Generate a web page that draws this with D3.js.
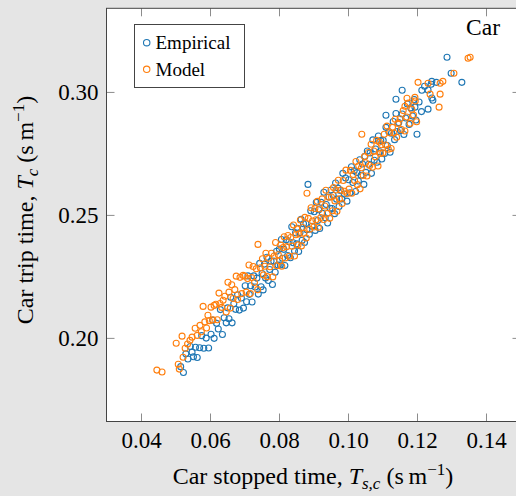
<!DOCTYPE html>
<html>
<head>
<meta charset="utf-8">
<script src="https://cdn.jsdelivr.net/npm/d3@7"></script>
<style>
  html, body { margin: 0; padding: 0; background: #e5e5e5; }
  svg { display: block; }
  svg text, svg tspan { font-family: 'Liberation Serif', 'Times New Roman', Times, serif !important; fill: #000; }
</style>
</head>
<body>
<svg id="chart" width="516" height="496"></svg>
<script>
// ---- data ----
const seriesNames = ["Empirical", "Model"];
const seriesColors = ["#1f77b4", "#ff7f0e"];
const xTicks = [0.04, 0.06, 0.08, 0.10, 0.12, 0.14];
const yTicks = [0.20, 0.25, 0.30];
const xDomain = [0.03, 0.15];
const yDomain = [0.166, 0.334];

const empirical = [
[.0515,.1883],[.0523,.1859],[.0530,.1935],[.0536,.1914],[.0543,.1965],[.0548,.1942],
[.0552,.1923],[.0558,.1962],[.0563,.1920],[.0570,.1960],[.0576,.2009],[.0582,.1958],[.0589,.1999],[.0596,.1959],
[.0603,.2015],[.0608,.2072],[.0612,.1998],[.0619,.2059],[.0624,.2036],[.0630,.2115],[.0636,.2014],[.0641,.2082],[.0647,.2061],
[.0651,.2122],[.0655,.2078],[.0660,.2165],[.0664,.2061],[.0669,.2139],[.0674,.2116],[.0680,.2175],[.0685,.2113],[.0691,.2162],[.0697,.2121],
[.0702,.2212],[.0706,.2147],[.0710,.2252],[.0714,.2177],[.0718,.2212],[.0722,.2146],[.0727,.2252],[.0731,.2207],[.0736,.2243],[.0740,.2178],[.0744,.2303],[.0748,.2208],
[.0751,.2262],[.0754,.2195],[.0758,.2300],[.0761,.2243],[.0765,.2328],[.0769,.2233],[.0773,.2278],[.0777,.2312],[.0781,.2217],[.0785,.2312],[.0789,.2267],[.0793,.2352],[.0797,.2296],
[.0801,.2361],[.0804,.2296],[.0807,.2400],[.0810,.2324],[.0814,.2360],[.0817,.2294],[.0821,.2399],[.0825,.2335],[.0829,.2391],[.0833,.2326],[.0837,.2452],[.0841,.2387],[.0845,.2353],[.0848,.2427],
[.0851,.2382],[.0854,.2446],[.0857,.2351],[.0861,.2428],[.0864,.2482],[.0867,.2397],[.0871,.2464],[.0874,.2388],[.0878,.2465],[.0881,.2440],[.0884,.2624],[.0888,.2421],[.0892,.2517],[.0896,.2454],
[.0902,.2513],[.0905,.2437],[.0908,.2551],[.0912,.2477],[.0915,.2521],[.0918,.2445],[.0922,.2551],[.0926,.2506],[.0930,.2592],[.0934,.2488],[.0937,.2542],[.0941,.2467],[.0945,.2573],[.0948,.2527],
[.0951,.2601],[.0954,.2526],[.0957,.2580],[.0961,.2505],[.0964,.2630],[.0967,.2564],[.0971,.2609],[.0974,.2534],[.0978,.2599],[.0982,.2565],[.0985,.2669],[.0989,.2585],[.0993,.2650],[.0997,.2556],
[.1002,.2643],[.1006,.2590],[.1010,.2696],[.1014,.2632],[.1018,.2679],[.1022,.2595],[.1026,.2672],[.1030,.2638],[.1034,.2724],[.1038,.2661],[.1042,.2707],[.1046,.2624],[.1049,.2738],
[.1052,.2673],[.1056,.2760],[.1060,.2706],[.1064,.2752],[.1068,.2669],[.1072,.2805],[.1076,.2722],[.1080,.2768],[.1084,.2714],[.1088,.2821],[.1092,.2757],[.1095,.2802],[.1098,.2727],
[.1102,.2803],[.1106,.2750],[.1110,.2856],[.1114,.2782],[.1118,.2839],[.1122,.2755],[.1126,.2832],[.1131,.2880],[.1135,.2806],[.1139,.2912],[.1143,.2839],[.1147,.2875],
[.1152,.2843],[.1157,.2910],[.1162,.2827],[.1167,.2894],[.1172,.2951],[.1177,.2868],[.1182,.2935],[.1187,.2902],[.1192,.2969],[.1197,.2886],
[.1200,.2828],[.1206,.2959],[.1213,.2920],[.1222,.3023],[.1232,.3008],[.1243,.2975],
[.1157,.3007],[.1139,.2970],[.1214,.3007],[.1246,.2966],[.1194,.2938],[.1232,.2930],[.1110,.2905],[.1243,.3043],[.1241,.3031],
[.1256,.3039],[.1287,.3141],[.1299,.3076],[.1330,.3039]
];

const model = [
[.0446,.1869],[.0461,.1861],
[.0502,.1978],[.0508,.1893],[.0511,.1873],[.0519,.2007],[.0522,.1921],[.0528,.1958],[.0535,.1975],[.0542,.1990],
[.0548,.2003],[.0557,.2039],[.0563,.2010],[.0571,.2051],[.0575,.2025],[.0580,.2128],[.0585,.2065],[.0590,.2040],[.0594,.2092],[.0598,.2070],
[.0603,.2125],[.0608,.2073],[.0612,.2132],[.0617,.2137],[.0621,.2074],[.0626,.2182],[.0629,.2140],[.0634,.2124],[.0638,.2153],[.0643,.2169],[.0647,.2105],
[.0652,.2226],[.0655,.2186],[.0659,.2121],[.0663,.2216],[.0667,.2160],[.0672,.2196],[.0676,.2251],[.0680,.2156],[.0687,.2246],[.0692,.2180],[.0696,.2254],
[.0701,.2251],[.0705,.2186],[.0709,.2241],[.0713,.2296],[.0717,.2180],[.0721,.2245],[.0725,.2290],[.0729,.2225],[.0734,.2281],[.0738,.2196],[.0739,.2380],[.0746,.2285],
[.0752,.2322],[.0755,.2256],[.0759,.2291],[.0762,.2344],[.0766,.2249],[.0770,.2324],[.0774,.2289],[.0778,.2344],[.0782,.2248],[.0786,.2333],[.0790,.2388],[.0794,.2293],[.0798,.2338],
[.0802,.2313],[.0805,.2377],[.0808,.2291],[.0812,.2367],[.0815,.2411],[.0818,.2325],[.0822,.2371],[.0826,.2416],[.0830,.2332],[.0834,.2408],[.0838,.2373],[.0842,.2459],[.0845,.2333],[.0849,.2419],
[.0852,.2443],[.0855,.2378],[.0858,.2423],[.0862,.2479],[.0865,.2374],[.0868,.2449],[.0872,.2425],[.0875,.2490],[.0879,.2406],[.0881,.2588],[.0885,.2486],[.0889,.2442],[.0893,.2529],[.0897,.2475],
[.0901,.2451],[.0904,.2526],[.0907,.2480],[.0911,.2555],[.0914,.2450],[.0917,.2524],[.0921,.2489],[.0925,.2565],[.0929,.2481],[.0933,.2536],[.0936,.2600],[.0940,.2506],[.0944,.2572],[.0947,.2486],
[.0952,.2573],[.0955,.2517],[.0958,.2611],[.0962,.2557],[.0965,.2601],[.0968,.2515],[.0972,.2641],[.0975,.2565],[.0979,.2601],[.0983,.2546],[.0986,.2640],[.0990,.2596],[.0994,.2682],[.0998,.2587],
[.1003,.2605],[.1007,.2681],[.1011,.2588],[.1015,.2664],[.1019,.2640],[.1023,.2717],[.1027,.2623],[.1031,.2700],[.1035,.2606],[.1039,.2692],[.1040,.2828],[.1044,.2660],[.1048,.2737],
[.1051,.2712],[.1055,.2658],[.1059,.2754],[.1063,.2701],[.1067,.2787],[.1071,.2694],[.1075,.2760],[.1079,.2736],[.1083,.2803],[.1087,.2699],[.1091,.2796],[.1094,.2750],[.1097,.2785],
[.1101,.2752],[.1105,.2828],[.1109,.2784],[.1113,.2861],[.1117,.2767],[.1121,.2834],[.1125,.2770],[.1129,.2856],[.1133,.2833],[.1137,.2889],[.1141,.2816],[.1145,.2872],
[.1151,.2891],[.1155,.2847],[.1160,.2924],[.1165,.2841],[.1170,.2898],[.1175,.2955],[.1180,.2872],[.1185,.2929],[.1190,.2906],[.1195,.2963],[.1199,.2879],
[.1203,.3039],[.1171,.2974],[.1194,.2978],[.1165,.2942],[.1232,.3035],[.1275,.3043],[.1267,.3035],[.1238,.2991],[.1267,.2991],[.1264,.2938],[.1307,.3076],[.1348,.3137],[.1354,.3141]
];

// ---- layout ----
const W = 516, H = 496;
const plot = { left: 106.5, right: 520.5, top: 8.3, bottom: 421.5 };
const SERIF = "'Liberation Serif', 'Times New Roman', Times, serif";

const svg = d3.select("#chart");
svg.append("rect").attr("width", W).attr("height", H).attr("fill", "#e5e5e5");

const x = d3.scaleLinear().domain(xDomain).range([plot.left, plot.right]);
const y = d3.scaleLinear().domain(yDomain).range([plot.bottom, plot.top]);

svg.append("rect")
  .attr("x", plot.left).attr("y", plot.top)
  .attr("width", plot.right - plot.left).attr("height", plot.bottom - plot.top)
  .attr("fill", "#fff");

svg.append("clipPath").attr("id", "clip").append("rect")
  .attr("x", plot.left).attr("y", plot.top)
  .attr("width", plot.right - plot.left).attr("height", plot.bottom - plot.top);

const fmt = d3.format(".2f");
const tickLen = 8;

function styleAxis(g, showLabels) {
  g.attr("font-family", null);
  g.select(".domain").remove();
  g.selectAll(".tick line").attr("stroke", "#8c8c8c").attr("stroke-width", 1);
  g.selectAll(".tick text")
    .style("font-family", SERIF)
    .attr("font-size", 23)
    .attr("fill", "#000");
  if (!showLabels) g.selectAll(".tick text").remove();
}

svg.append("g").attr("transform", `translate(0,${plot.bottom})`)
  .call(d3.axisBottom(x).tickValues(xTicks).tickFormat(fmt).tickSizeInner(-tickLen).tickSizeOuter(0).tickPadding(10))
  .call(g => styleAxis(g, true));
svg.append("g").attr("transform", `translate(0,${plot.top})`)
  .call(d3.axisTop(x).tickValues(xTicks).tickSizeInner(-tickLen).tickSizeOuter(0))
  .call(g => styleAxis(g, false));
svg.append("g").attr("transform", `translate(${plot.left},0)`)
  .call(d3.axisLeft(y).tickValues(yTicks).tickFormat(fmt).tickSizeInner(-tickLen).tickSizeOuter(0).tickPadding(8))
  .call(g => styleAxis(g, true));
svg.append("g").attr("transform", `translate(${plot.right},0)`)
  .call(d3.axisRight(y).tickValues(yTicks).tickSizeInner(-tickLen).tickSizeOuter(0))
  .call(g => styleAxis(g, false));

// points
const pts = svg.append("g").attr("clip-path", "url(#clip)");
[empirical, model].forEach((data, i) => {
  pts.append("g").selectAll("circle").data(data).join("circle")
    .attr("cx", d => x(d[0])).attr("cy", d => y(d[1])).attr("r", 3)
    .attr("fill", "none").attr("stroke", seriesColors[i]).attr("stroke-width", 1.1);
});

// frame
svg.append("rect")
  .attr("x", plot.left).attr("y", plot.top)
  .attr("width", plot.right - plot.left).attr("height", plot.bottom - plot.top)
  .attr("fill", "none").attr("stroke", "#444").attr("stroke-width", 1);

// legend
const lg = svg.append("g");
lg.append("rect").attr("x", 134.5).attr("y", 24.5).attr("width", 110).attr("height", 63)
  .attr("fill", "#fff").attr("stroke", "#444").attr("stroke-width", 1);
seriesNames.forEach((name, i) => {
  const cy = 42.7 + i * 26.6;
  lg.append("circle").attr("cx", 146.7).attr("cy", cy).attr("r", 3.2)
    .attr("fill", "none").attr("stroke", seriesColors[i]).attr("stroke-width", 1.1);
  lg.append("text").attr("x", 155.5).attr("y", cy).attr("dy", "0.33em")
    .style("font-family", SERIF).attr("font-size", 19).text(name);
});

// title "Car"
svg.append("text").attr("x", 500).attr("y", 34.5).attr("text-anchor", "end")
  .style("font-family", SERIF).attr("font-size", 23.5).text("Car");

// x label
const xl = svg.append("text").attr("x", 313).attr("y", 484).attr("text-anchor", "middle")
  .style("font-family", SERIF).attr("font-size", 24);
xl.append("tspan").text("Car stopped time, ");
xl.append("tspan").attr("font-style", "italic").text("T");
xl.append("tspan").attr("font-style", "italic").attr("font-size", 17).attr("dy", 5).text("s,c");
xl.append("tspan").attr("dy", -5).text(" (s\u2009m");
xl.append("tspan").attr("font-size", 17).attr("dy", -9).text("\u22121");
xl.append("tspan").attr("dy", 9).text(")");

// y label
const yl = svg.append("text").attr("transform", "translate(33,210) rotate(-90)")
  .attr("text-anchor", "middle").style("font-family", SERIF).attr("font-size", 24);
yl.append("tspan").text("Car trip time, ");
yl.append("tspan").attr("font-style", "italic").text("T");
yl.append("tspan").attr("font-style", "italic").attr("font-size", 17).attr("dy", 5).text("c");
yl.append("tspan").attr("dy", -5).text(" (s\u2009m");
yl.append("tspan").attr("font-size", 17).attr("dy", -9).text("\u22121");
yl.append("tspan").attr("dy", 9).text(")");
</script>
</body>
</html>
